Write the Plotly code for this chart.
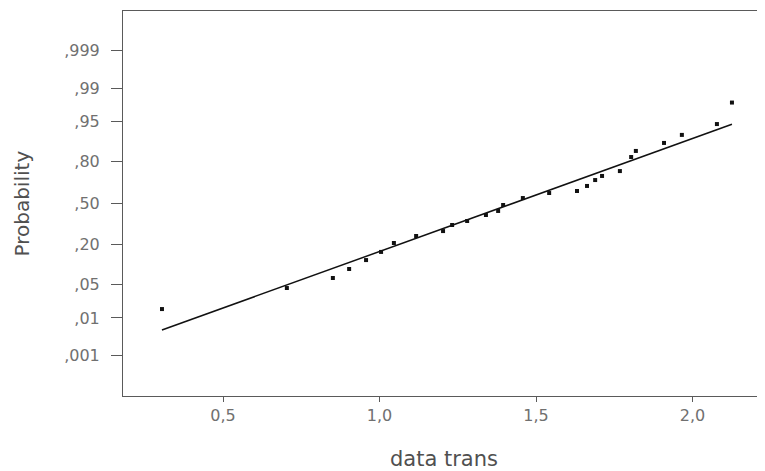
from statistics import NormalDist
import plotly.graph_objects as go

# Observed data (x = transformed data, p = cumulative probability)
data_x = [0.305, 0.704, 0.851, 0.903, 0.957, 1.005, 1.046, 1.117, 1.203, 1.232,
          1.280, 1.340, 1.379, 1.395, 1.458, 1.542, 1.631, 1.663, 1.689, 1.711,
          1.768, 1.804, 1.819, 1.909, 1.966, 2.078, 2.126]
data_p = [0.0159, 0.0426, 0.0645, 0.0908, 0.124, 0.161, 0.209, 0.252, 0.285, 0.328,
          0.358, 0.404, 0.436, 0.484, 0.540, 0.580, 0.596, 0.635, 0.679, 0.708,
          0.741, 0.824, 0.854, 0.888, 0.916, 0.945, 0.979]

# Reference (fitted normal) line end points
line_x = [0.305, 2.126]
line_p = [0.00507, 0.9444]

# Axis ticks
y_tick_p = [0.001, 0.01, 0.05, 0.20, 0.50, 0.80, 0.95, 0.99, 0.999]
y_tick_text = [",001", ",01", ",05", ",20", ",50", ",80", ",95", ",99", ",999"]
x_tick_vals = [0.5, 1.0, 1.5, 2.0]
x_tick_text = ["0,5", "1,0", "1,5", "2,0"]

nd = NormalDist()
to_z = lambda ps: [nd.inv_cdf(p) for p in ps]

FONT = "DejaVu Sans"
AX = "#5a5a5a"

fig = go.Figure()
fig.add_trace(go.Scatter(
    x=line_x, y=to_z(line_p), mode="lines",
    line=dict(color="#111111", width=1.5), hoverinfo="skip", showlegend=False))
fig.add_trace(go.Scatter(
    x=data_x, y=to_z(data_p), mode="markers",
    marker=dict(symbol="square", size=4, color="#111111", line=dict(width=0)),
    showlegend=False))

# page body has an 8px default margin, so the figure is 8px smaller
fig.update_layout(
    width=757, height=463,
    margin=dict(l=115, r=0, t=3, b=75),
    paper_bgcolor="white", plot_bgcolor="white",
    font=dict(family=FONT, color="#666666"),
    xaxis=dict(
        range=[0.1805, 2.2316], tickmode="array",
        tickvals=x_tick_vals, ticktext=x_tick_text,
        showgrid=False, zeroline=False,
        showline=True, linecolor=AX, linewidth=1, mirror=True,
        ticks="outside", ticklen=5, tickcolor=AX, tickwidth=1,
        tickfont=dict(size=16, color="#707070", family=FONT),
    ),
    yaxis=dict(
        range=[-3.907, 3.887], tickmode="array",
        tickvals=to_z(y_tick_p), ticktext=y_tick_text,
        showgrid=False, zeroline=False,
        showline=True, linecolor=AX, linewidth=1, mirror=False,
        ticks="outside", ticklen=11, tickcolor=AX, tickwidth=1,
        ticklabelstandoff=8,
        tickfont=dict(size=16, color="#707070", family=FONT),
    ),
    annotations=[
        dict(text="Probability", textangle=-90, xref="paper", yref="paper",
             x=(21 - 123) / 642, y=0.5, xanchor="center", yanchor="middle",
             showarrow=False, borderpad=0,
             font=dict(size=20, color="#505050", family=FONT)),
        dict(text="data trans", xref="paper", yref="paper",
             x=0.5, y=(396 - 459) / 385, xanchor="center", yanchor="middle",
             showarrow=False, font=dict(size=21, color="#505050", family=FONT)),
    ],
)

fig.write_html("out.html")
